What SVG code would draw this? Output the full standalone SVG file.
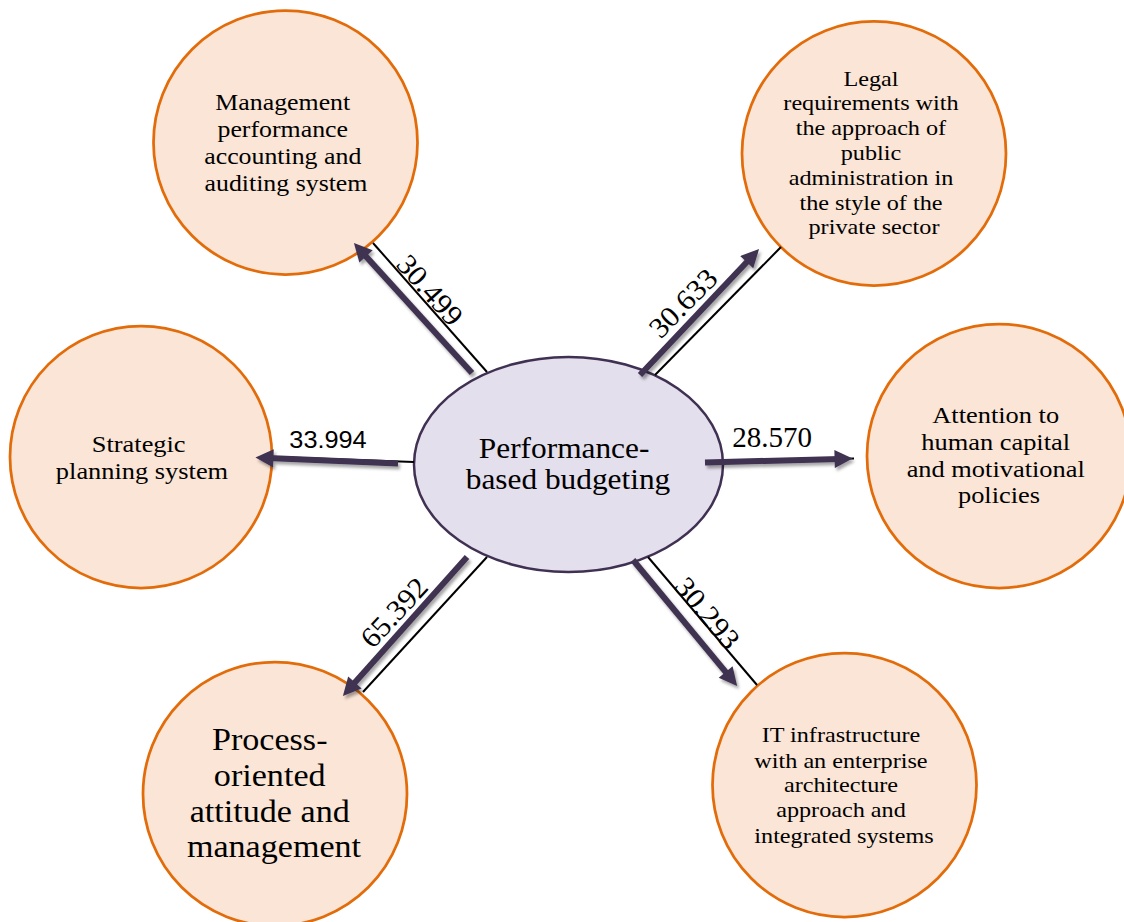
<svg xmlns="http://www.w3.org/2000/svg" width="1124" height="922" viewBox="0 0 1124 922">
  <style>
    .factor { fill: #FBE5D6; stroke: #E36C0A; stroke-width: 2.75; }
    .core { fill: #E4DFEC; stroke: #403152; stroke-width: 2.5; }
    .lbl { font-family: "Liberation Serif", "Times New Roman", serif; fill: #000; text-anchor: middle; }
    .val { font-family: "Liberation Serif", "Times New Roman", serif; font-size: 29px; fill: #000; text-anchor: middle; }
    .val-sans { font-family: "Liberation Sans", Arial, sans-serif; font-size: 23px; fill: #000; text-anchor: middle; }
    .link { stroke: #000; stroke-width: 2; fill: none; }
    .flow { stroke: #3F3151; stroke-width: 6; fill: none; marker-end: url(#head); }
  </style>
  <defs>
    <marker id="head" viewBox="0 0 10 10" refX="3" refY="5" markerWidth="3.4" markerHeight="3" markerUnits="strokeWidth" orient="auto">
      <path d="M0,0 L10,5 L0,10 Z" fill="#3F3151"/>
    </marker>
    <filter id="shade" filterUnits="userSpaceOnUse" x="0" y="0" width="1124" height="922">
      <feDropShadow dx="2" dy="3" stdDeviation="1.6" flood-color="#000" flood-opacity="0.35"/>
    </filter>
  </defs>

  <!-- outer factors -->
  <g id="node-management">
    <circle class="factor" cx="285.5" cy="142.5" r="132"/>
    <text class="lbl" font-size="23.5" transform="matrix(1.1 0 0 1 -28.6 0)">
      <tspan x="286" y="110">Management</tspan>
      <tspan x="286" y="137">performance</tspan>
      <tspan x="286" y="164">accounting and</tspan>
      <tspan x="286" y="191">auditing system</tspan>
    </text>
  </g>

  <g id="node-legal">
    <circle class="factor" cx="874" cy="153.5" r="132"/>
    <text class="lbl" font-size="22" transform="matrix(1.1 0 0 1 -87.4 0)">
      <tspan x="874" y="86">Legal</tspan>
      <tspan x="874" y="110">requirements with</tspan>
      <tspan x="874" y="135">the approach of</tspan>
      <tspan x="874" y="160">public</tspan>
      <tspan x="874" y="185">administration in</tspan>
      <tspan x="874" y="210">the style of the</tspan>
      <tspan x="874" y="234">private sector</tspan>
    </text>
  </g>

  <g id="node-strategic">
    <circle class="factor" cx="141" cy="457" r="131"/>
    <text class="lbl" font-size="24" transform="matrix(1.1 0 0 1 -14.2 0)">
      <tspan x="142" y="452">Strategic</tspan>
      <tspan x="142" y="479">planning system</tspan>
    </text>
  </g>

  <g id="node-attention">
    <circle class="factor" cx="999" cy="456" r="132"/>
    <text class="lbl" font-size="24" transform="matrix(1.1 0 0 1 -99.9 0)">
      <tspan x="999" y="423">Attention to</tspan>
      <tspan x="999" y="450">human capital</tspan>
      <tspan x="999" y="477">and motivational</tspan>
      <tspan x="999" y="503">policies</tspan>
    </text>
  </g>

  <g id="node-process">
    <circle class="factor" cx="275" cy="794" r="132"/>
    <text class="lbl" font-size="31" transform="matrix(1.1 0 0 1 -27.4 0)">
      <tspan x="274" y="750">Process-</tspan>
      <tspan x="274" y="786">oriented</tspan>
      <tspan x="274" y="822">attitude and</tspan>
      <tspan x="274" y="857">management</tspan>
    </text>
  </g>

  <g id="node-it">
    <circle class="factor" cx="844.5" cy="785" r="132"/>
    <text class="lbl" font-size="22" transform="matrix(1.1 0 0 1 -84.4 0)">
      <tspan x="844" y="742">IT infrastructure</tspan>
      <tspan x="844" y="768">with an enterprise</tspan>
      <tspan x="844" y="792">architecture</tspan>
      <tspan x="844" y="817">approach and</tspan>
      <tspan x="844" y="843">integrated systems</tspan>
    </text>
  </g>

  <!-- central concept -->
  <g id="node-pbb">
    <ellipse class="core" cx="568.5" cy="464.5" rx="154.5" ry="107.5"/>
    <text class="lbl" font-size="28.5" transform="matrix(1.1 0 0 1 -56.8 0)">
      <tspan x="568" y="458">Performance-</tspan>
      <tspan x="568" y="489">based budgeting</tspan>
    </text>
  </g>

  <!-- connectors: thin guide line plus weighted arrow -->
  <g id="connectors">
    <line class="link" x1="373" y1="243" x2="487" y2="372"/>
    <line class="link" x1="655" y1="375" x2="781" y2="247"/>
    <line class="link" x1="722" y1="461" x2="854" y2="458.5"/>
    <line class="link" x1="414" y1="462" x2="275" y2="457"/>
    <line class="link" x1="487" y1="557" x2="363" y2="692"/>
    <line class="link" x1="648" y1="557" x2="757" y2="685"/>

    <g filter="url(#shade)">
      <line class="flow" x1="472" y1="373" x2="362.4" y2="252.4"/>
      <line class="flow" x1="640" y1="375" x2="750.4" y2="258.2"/>
      <line class="flow" x1="705" y1="462.5" x2="840" y2="458.9"/>
      <line class="flow" x1="398" y1="463.5" x2="268" y2="458.1"/>
      <line class="flow" x1="467" y1="557" x2="351.3" y2="686.6"/>
      <line class="flow" x1="633" y1="560" x2="729.1" y2="676.2"/>
    </g>

    <text class="val" transform="translate(422.7 296.5) rotate(48.5) scale(1.05 1)">30.499</text>
    <text class="val" transform="translate(690 309.9) rotate(-45.5) scale(1.05 1)">30.633</text>
    <text class="val-sans" transform="matrix(1.1 0 0 1 -32.8 0)" x="328" y="448">33.994</text>
    <text class="val" x="772" y="447">28.570</text>
    <text class="val" transform="translate(401.2 619.2) rotate(-47) scale(1.05 1)">65.392</text>
    <text class="val" transform="translate(700 619.3) rotate(50) scale(1.05 1)">30.293</text>
  </g>
</svg>
